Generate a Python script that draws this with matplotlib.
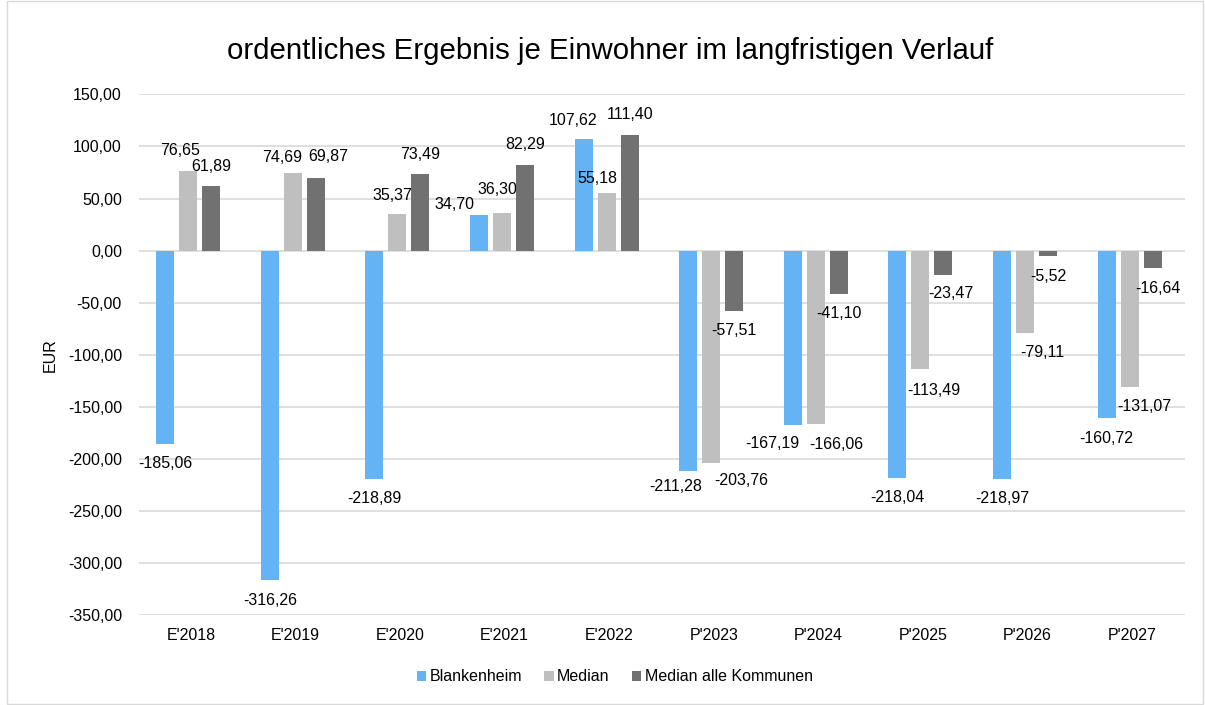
import numpy as np
import matplotlib.pyplot as plt
from matplotlib.patches import Rectangle

plt.rcParams['font.family'] = ['Liberation Sans', 'DejaVu Sans']

# data ##########################################################################
years = ["E'2018", "E'2019", "E'2020", "E'2021", "E'2022",
         "P'2023", "P'2024", "P'2025", "P'2026", "P'2027"]
blankenheim = [-185.06, -316.26, -218.89, 34.70, 107.62,
               -211.28, -167.19, -218.04, -218.97, -160.72]
median = [76.65, 74.69, 35.37, 36.30, 55.18,
          -203.76, -166.06, -113.49, -79.11, -131.07]
median_alle = [61.89, 69.87, 73.49, 82.29, 111.40,
               -57.51, -41.10, -23.47, -5.52, -16.64]
series_names = ["Blankenheim", "Median", "Median alle Kommunen"]
colours = ["#63B3F5", "#BFBFBF", "#717171"]

# label placement tweaks (series, category) -> (dx px, distance from bar end px)
# the rest sit 20 px beyond the bar end, centred
label_shift = {
    (1, 0): (-8, 20), (1, 1): (-11, 15), (2, 1): (12, 21), (1, 2): (-5, 18),
    (0, 3): (-25, 10), (1, 3): (-5, 23), (0, 4): (-11, 18), (1, 4): (-9, 15),
    (0, 5): (-13, 16), (1, 5): (30, 17), (0, 6): (-20, 19), (1, 6): (20, 21),
    (1, 7): (13, 22), (2, 7): (7, 18), (1, 8): (17, 19), (1, 9): (15, 19),
    (2, 9): (5, 20),
}

def de_fmt(v):
    # german number format with comma
    return f"{v:,.2f}".replace(",", "X").replace(".", ",").replace("X", ".")

#################################################################################

fs = 11.5
fig = plt.figure(figsize=(12.05, 7.05), dpi=100)
ax = fig.add_axes([0.1150, 0.1271, 0.8680, 0.7390])

x = np.arange(len(years))
w = 0.172
offsets = [-0.245, -0.025, 0.195]
for si, (data, name, col, off) in enumerate(zip([blankenheim, median, median_alle],
                                                series_names, colours, offsets)):
    bars = ax.bar(x + off, data, w, color=col, label=name, zorder=3)
    for ci, (b, v) in enumerate(zip(bars, data)):
        cx = b.get_x() + b.get_width() / 2
        dx, dist = label_shift.get((si, ci), (0, 20))
        dy = dist if v >= 0 else -dist
        ax.annotate(de_fmt(v), (cx, v), xytext=(dx, dy), textcoords="offset pixels",
                    ha="center", va="center", fontsize=fs, color="#000000")

ax.set_ylim(-350, 150)
ax.set_xlim(-0.5, len(years) - 0.5)
ticks = np.arange(-350, 151, 50)
ax.set_yticks(ticks)
ax.set_yticklabels([de_fmt(t) for t in ticks], fontsize=fs)
ax.set_xticks(x)
ax.set_xticklabels(years, fontsize=fs)
ax.tick_params(axis="y", length=0, pad=12)
ax.tick_params(axis="x", length=0, pad=9)
ax.grid(axis="y", color="#D9D9D9", linewidth=1.2, zorder=0)
for s in ax.spines.values():
    s.set_visible(False)
ax.set_ylabel("EUR", fontsize=fs, labelpad=7)

fig.suptitle("ordentliches Ergebnis je Einwohner im langfristigen Verlauf",
             fontsize=21.2, x=0.506, y=0.948, color="#000000")

fig.legend(loc="center", bbox_to_anchor=(0.51, 0.040), ncol=3, frameon=False,
           fontsize=fs, handlelength=0.6, handleheight=0.6, handletextpad=0.2,
           columnspacing=1.4)

fig.patches.append(Rectangle((0.006, 0.002), 0.992, 0.996, transform=fig.transFigure,
                             fill=False, edgecolor="#D9D9D9", linewidth=1))

fig.savefig("out.png", dpi=100)
